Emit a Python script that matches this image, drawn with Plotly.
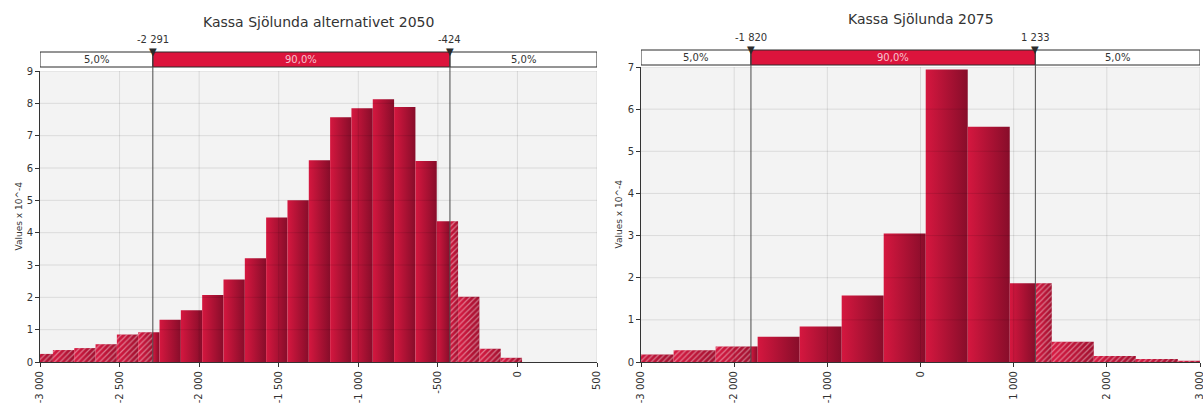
import plotly.graph_objects as go

# ---------------- data ----------------
# Kassa Sjölunda alternativet 2050 (density, values x 10^-4)
title_2050 = "Kassa Sjölunda alternativet 2050"
bin_start_2050 = -3053
bin_width_2050 = 134
density_2050 = [0.25, 0.37, 0.43, 0.55, 0.85, 0.92, 1.31, 1.60, 2.07, 2.55, 3.21,
                4.47, 5.00, 6.24, 7.57, 7.85, 8.13, 7.89, 6.22, 4.35, 2.02, 0.41, 0.13]
p5_2050, p95_2050 = -2291, -424
xticks_2050 = [-3000, -2500, -2000, -1500, -1000, -500, 0, 500]
xticktext_2050 = ["-3 000", "-2 500", "-2 000", "-1 500", "-1 000", "-500", "0", "500"]
yticks_2050 = [0, 1, 2, 3, 4, 5, 6, 7, 8, 9]

# Kassa Sjölunda 2075
title_2075 = "Kassa Sjölunda 2075"
bin_start_2075 = -3101
bin_width_2075 = 451
density_2075 = [0.18, 0.28, 0.37, 0.60, 0.84, 1.58, 3.05, 6.94, 5.58, 1.87,
                0.48, 0.14, 0.07, 0.03]
p5_2075, p95_2075 = -1820, 1233
xticks_2075 = [-3000, -2000, -1000, 0, 1000, 2000, 3000]
xticktext_2075 = ["-3 000", "-2 000", "-1 000", "0", "1 000", "2 000", "3 000"]
yticks_2075 = [0, 1, 2, 3, 4, 5, 6, 7]

band_pct = [5.0, 90.0, 5.0]
y_title = "Values x 10^-4"

# ---------------- styling ----------------
W, H = 1203, 403
FONT = "DejaVu Sans"
TXT = "#333333"
CRIMSON = "#dc143c"
BAR_SCALE = [[0, "#d5173f"], [1, "#870d2a"]]
HATCH_SCALE = [[0, "#d81a42"], [1, "#a0102f"]]
GRID = "rgba(0,0,0,0.10)"


def fx(p):
    return p / W


def fy(p):
    return 1 - p / H


def fmt_num(v):
    return f"{v:,}".replace(",", " ")


def fmt_pct(v):
    return f"{v:.1f}".replace(".", ",") + "%"


panels = [
    dict(title=title_2050, start=bin_start_2050, width=bin_width_2050, dens=density_2050,
         p5=p5_2050, p95=p95_2050, xrange=[-3000, 500], yrange=[0, 9],
         xticks=xticks_2050, xtext=xticktext_2050, yticks=yticks_2050,
         xdom=(40, 597), ydom=(71, 362), band=(52, 67), title_y=22, qlab_y=47,
         ytitle_x=18, xa="x", ya="y"),
    dict(title=title_2075, start=bin_start_2075, width=bin_width_2075, dens=density_2075,
         p5=p5_2075, p95=p95_2075, xrange=[-3000, 3000], yrange=[0, 7],
         xticks=xticks_2075, xtext=xticktext_2075, yticks=yticks_2075,
         xdom=(641, 1200), ydom=(67, 362), band=(50, 65), title_y=19, qlab_y=45,
         ytitle_x=618, xa="x2", ya="y2"),
]

fig = go.Figure()
shapes = []
annotations = []


def solid_piece(xa, ya, a, b, h, scale=BAR_SCALE):
    fig.add_trace(go.Scatter(
        x=[a, a, b, b, a], y=[0, h, h, 0, 0], fill="toself", mode="none",
        fillgradient=dict(type="horizontal", colorscale=scale),
        xaxis=xa, yaxis=ya, hoverinfo="skip", showlegend=False))


def hatched_piece(xa, ya, a, b, h):
    solid_piece(xa, ya, a, b, h, HATCH_SCALE)
    fig.add_trace(go.Scatter(
        x=[a, a, b, b, a], y=[0, h, h, 0, 0], fill="toself", mode="none",
        fillcolor="rgba(0,0,0,0)",
        fillpattern=dict(shape="/", fgcolor="rgba(255,255,255,0.85)",
                         bgcolor="rgba(0,0,0,0)", size=4, solidity=0.3),
        xaxis=xa, yaxis=ya, hoverinfo="skip", showlegend=False))


for i, p in enumerate(panels):
    xa, ya = p["xa"], p["ya"]
    lo, hi = p["p5"], p["p95"]

    # histogram bins, hatched outside the 90 % interval
    for k, h in enumerate(p["dens"]):
        x0 = p["start"] + k * p["width"]
        x1 = x0 + p["width"]
        if x0 < lo:
            hatched_piece(xa, ya, x0, min(x1, lo), h)
        if x1 > lo and x0 < hi:
            solid_piece(xa, ya, max(x0, lo), min(x1, hi), h)
        if x1 > hi:
            hatched_piece(xa, ya, max(x0, hi), x1, h)

    axis_x = dict(domain=[fx(p["xdom"][0]), fx(p["xdom"][1])], range=p["xrange"],
                  anchor=ya, tickmode="array", tickvals=p["xticks"], ticktext=p["xtext"],
                  tickangle=-90, ticks="outside", ticklen=4, tickcolor=TXT,
                  showline=True, linecolor=TXT, linewidth=1, showgrid=False,
                  zeroline=False, automargin=False, ticklabeloverflow="allow",
                  tickfont=dict(family=FONT, size=10, color=TXT))
    axis_y = dict(domain=[fy(p["ydom"][1]), fy(p["ydom"][0])], range=p["yrange"],
                  anchor=xa, tickmode="array", tickvals=p["yticks"],
                  ticks="outside", ticklen=4, tickcolor=TXT,
                  showline=True, linecolor=TXT, linewidth=1, showgrid=False,
                  zeroline=False, automargin=False, ticklabeloverflow="allow",
                  tickfont=dict(family=FONT, size=10, color=TXT))
    sx = "xaxis" if i == 0 else "xaxis2"
    sy = "yaxis" if i == 0 else "yaxis2"
    fig.update_layout({sx: axis_x, sy: axis_y})

    # grid drawn over the bars
    for t in p["yticks"][1:]:
        shapes.append(dict(type="line", xref=f"{xa} domain", yref=ya, x0=0, x1=1,
                           y0=t, y1=t, line=dict(color=GRID, width=1), layer="above"))
    for t in p["xticks"][1:]:
        shapes.append(dict(type="line", xref=xa, yref=f"{ya} domain", x0=t, x1=t,
                           y0=0, y1=1, line=dict(color=GRID, width=1), layer="above"))

    # percentile band above the plot
    b_top, b_bot = fy(p["band"][0]), fy(p["band"][1])
    xmin, xmax = p["xrange"]
    segs = [(xmin, lo, "white"), (lo, hi, CRIMSON), (hi, xmax, "white")]
    for (a, b, col), pct in zip(segs, band_pct):
        shapes.append(dict(type="rect", xref=xa, yref="paper", x0=a, x1=b,
                           y0=b_bot, y1=b_top, fillcolor=col,
                           line=dict(color="#2b2b2b", width=1), layer="above"))
        annotations.append(dict(x=(a + b) / 2, xref=xa, y=(b_top + b_bot) / 2, yref="paper",
                                text=fmt_pct(pct), showarrow=False,
                                xanchor="center", yanchor="middle",
                                font=dict(family=FONT, size=10,
                                          color="#f6c3cf" if col == CRIMSON else TXT)))

    # percentile markers and lines
    for q in (lo, hi):
        shapes.append(dict(type="line", xref=xa, yref="paper", x0=q, x1=q,
                           y0=fy(p["ydom"][1]), y1=b_top,
                           line=dict(color="#4a4a4a", width=1), layer="above"))
        annotations.append(dict(x=q, xref=xa, y=fy(p["qlab_y"]), yref="paper",
                                text=fmt_num(q), showarrow=False,
                                xanchor="center", yanchor="bottom",
                                font=dict(family=FONT, size=10, color=TXT)))
        annotations.append(dict(x=q, xref=xa, y=b_top, yref="paper", text="▼",
                                showarrow=False, xanchor="center", yanchor="middle",
                                yshift=1,
                                font=dict(family=FONT, size=10, color="#2b2b2b")))

    # titles
    annotations.append(dict(x=fx((p["xdom"][0] + p["xdom"][1]) / 2), xref="paper",
                            y=fy(p["title_y"]), yref="paper", text=p["title"],
                            showarrow=False, xanchor="center", yanchor="middle",
                            font=dict(family=FONT, size=14, color=TXT)))
    annotations.append(dict(x=fx(p["ytitle_x"]), xref="paper",
                            y=fy((p["ydom"][0] + p["ydom"][1]) / 2), yref="paper",
                            text=y_title, textangle=-90, showarrow=False,
                            xanchor="center", yanchor="middle",
                            font=dict(family=FONT, size=9, color=TXT)))

fig.update_layout(
    width=W, height=H, autosize=False,
    margin=dict(l=0, r=0, t=0, b=0, autoexpand=False),
    paper_bgcolor="white", plot_bgcolor="#f3f3f3",
    showlegend=False, shapes=shapes, annotations=annotations,
)

fig.write_html("out.html", config={"displayModeBar": False})
